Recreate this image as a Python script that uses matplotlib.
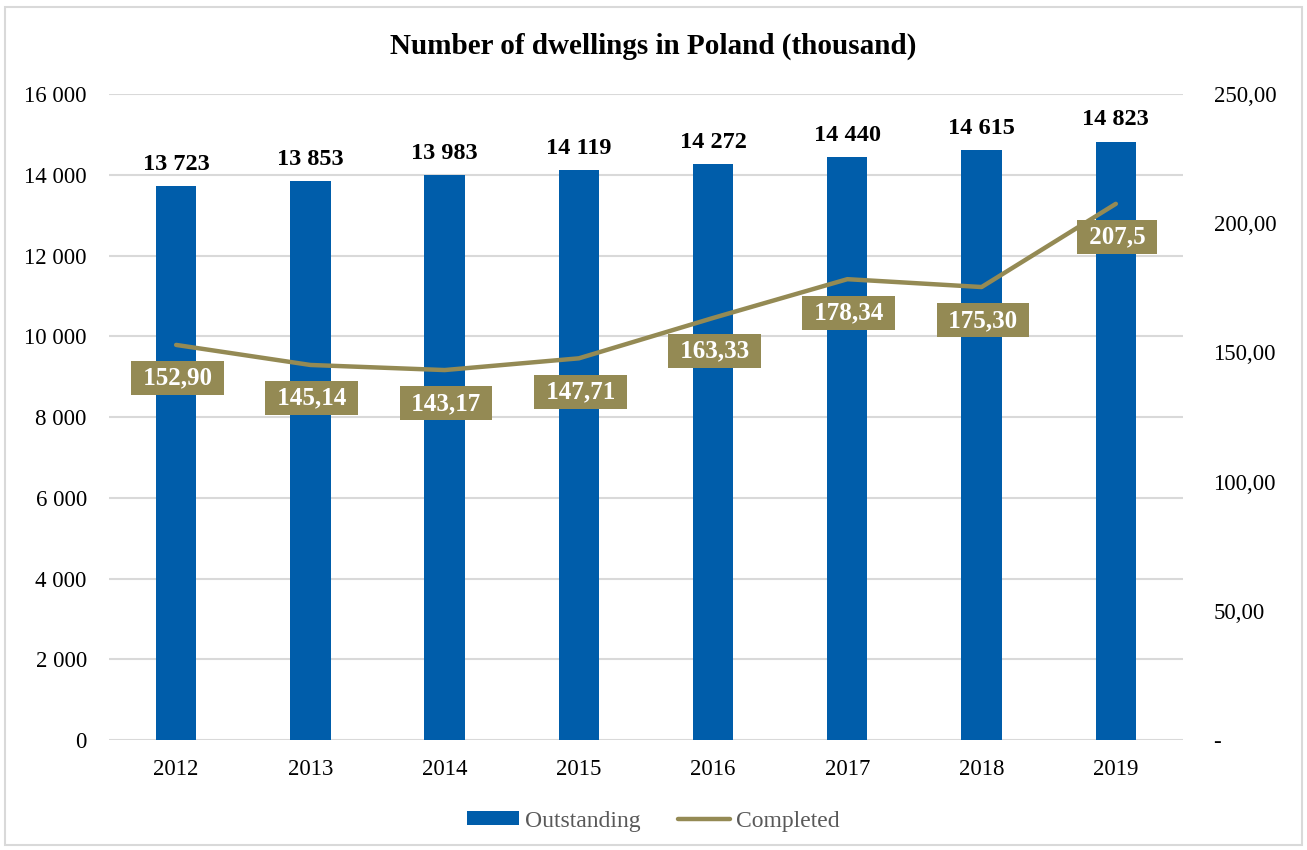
import matplotlib
matplotlib.use("Agg")
import matplotlib.pyplot as plt
from matplotlib.patches import Patch, Rectangle
from matplotlib.lines import Line2D
from matplotlib.ticker import FixedLocator

years = ["2012", "2013", "2014", "2015", "2016", "2017", "2018", "2019"]
outstanding = [13723, 13853, 13983, 14119, 14272, 14440, 14615, 14823]
completed = [152.90, 145.14, 143.17, 147.71, 163.33, 178.34, 175.30, 207.5]
completed_labels = ["152,90", "145,14", "143,17", "147,71", "163,33", "178,34", "175,30", "207,5"]
left_ticks = [0, 2000, 4000, 6000, 8000, 10000, 12000, 14000, 16000]
right_ticks = [0, 50, 100, 150, 200, 250]

BLUE = "#005DAA"
OLIVE = "#948A54"
GRID = "#D9D9D9"

plt.rcParams['font.family'] = ['Liberation Serif', 'DejaVu Serif']

fig = plt.figure(figsize=(13.07, 8.5), dpi=100)
fig.patches.append(Rectangle((0.004, 0.006), 0.992, 0.986, transform=fig.transFigure,
                             fill=False, edgecolor="#D9D9D9", linewidth=1.5))
ax = fig.add_axes([0.0834, 0.1294, 0.8217, 0.76])
x = list(range(len(years)))
ax.bar(x, outstanding, width=0.3, color=BLUE, zorder=2)
ax.set_xlim(-0.5, len(years) - 0.5)
ax.set_ylim(0, 16000)
ax.yaxis.set_major_locator(FixedLocator(left_ticks))
ax.set_yticklabels([f"{v:,}".replace(",", " ") for v in left_ticks])
ax.set_xticks(x)
ax.set_xticklabels(years)
ax.grid(axis='y', color=GRID, linewidth=1.5, zorder=0)
ax.set_axisbelow(True)
for s in ax.spines.values():
    s.set_visible(False)
ax.tick_params(axis='both', length=0, labelsize=16.5, colors="#000000")
ax.tick_params(axis='y', pad=16)
ax.tick_params(axis='x', pad=14)
for xi, v in zip(x, outstanding):
    ax.annotate(f"{v:,}".replace(",", " "), (xi, v), xytext=(0, 8), textcoords='offset points',
                ha='center', va='bottom', fontsize=17.5, fontweight='bold')

ax2 = ax.twinx()
ax2.plot(x, completed, color=OLIVE, linewidth=3.2, solid_capstyle='round', solid_joinstyle='round', zorder=3)
ax2.set_ylim(0, 250)
ax2.yaxis.set_major_locator(FixedLocator(right_ticks))
ax2.set_yticklabels(["-" if v == 0 else f"{v:.2f}".replace(".", ",") for v in right_ticks])
for s in ax2.spines.values():
    s.set_visible(False)
ax2.tick_params(axis='y', length=0, labelsize=16.5, pad=22)
for xi, v, lab in zip(x, completed, completed_labels):
    ax2.annotate(" " + lab + " ", (xi, v), xytext=(1, -24), textcoords='offset points',
                 ha='center', va='center', fontsize=18, fontweight='bold', color='white',
                 bbox=dict(boxstyle='square,pad=0.22', facecolor=OLIVE, edgecolor='none'), zorder=4)

fig.text(0.5, 0.946, "Number of dwellings in Poland (thousand)", ha='center', va='center',
         fontsize=21, fontweight='bold')

handles = [Patch(facecolor=BLUE, edgecolor='none'),
           Line2D([0], [0], color=OLIVE, linewidth=3.2, solid_capstyle='round')]
fig.legend(handles, ["Outstanding", "Completed"], loc='center', bbox_to_anchor=(0.5, 0.034),
           ncol=2, frameon=False, fontsize=17, labelcolor="#595959", handlelength=2.2,
           handleheight=0.5, handletextpad=0.25, columnspacing=1.6)

fig.savefig("out.png", dpi=100)
